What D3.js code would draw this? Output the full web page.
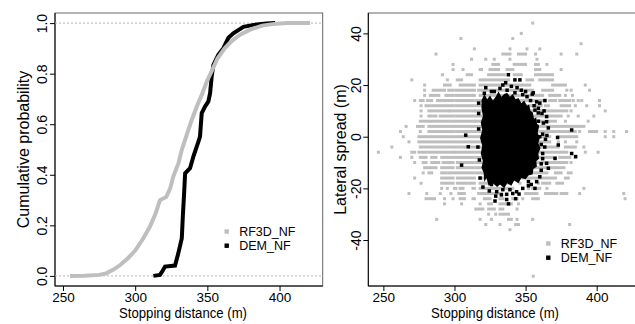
<!DOCTYPE html>
<html>
<head>
<meta charset="utf-8">
<script src="https://cdn.jsdelivr.net/npm/d3@7"></script>
<style>
  body { margin: 0; background: #fff; }
  text { font-family: "Liberation Sans", Arial, sans-serif; }
</style>
</head>
<body>
<div class="chart"></div>
<script>
// ---- data ----
const seriesNames = ['RF3D_NF', 'DEM_NF'];
const seriesColors = ['#bebebe', '#000000'];

const distTicks = [250, 300, 350, 400];
const probTicks = [0, 0.2, 0.4, 0.6, 0.8, 1.0];
const spreadTicks = [-40, -20, 0, 20, 40];

// cumulative curves: [stopping distance, probability]
const ecdfRF3D = [[254.9,0],[265,0.001],[275,0.004],[280,0.01],[285,0.025],[290,0.045],[295,0.07],
  [300,0.1],[305,0.143],[310,0.192],[314,0.245],[317.2,0.3],[321.5,0.312],[324.2,0.345],[326.4,0.393],
  [330,0.446],[332.3,0.499],[335.7,0.558],[339.2,0.617],[342.7,0.67],[346.1,0.716],[349.6,0.769],
  [353,0.81],[357,0.86],[362,0.9],[367,0.93],[373,0.955],[380,0.975],[388,0.99],[395,0.996],[405,1],[421.2,1]];
const ecdfDEM = [[312.6,0],[317.2,0.004],[319,0.02],[320.7,0.037],[327.6,0.041],[329.9,0.09],[332.3,0.149],
  [333,0.235],[333.9,0.327],[334.6,0.406],[338,0.426],[340.3,0.472],[343.8,0.531],[344.9,0.551],
  [346.1,0.644],[348.4,0.67],[350.7,0.69],[351.9,0.723],[353,0.789],[354.2,0.835],[357.6,0.875],
  [361,0.9],[364.6,0.942],[368,0.96],[375,0.985],[382,0.993],[391,0.998],[397,1]];

// RF3D scatter: lateral spread rows with runs of adjacent points [from, to] in stopping distance
const rf3dRows = [
  [44, [[355]]],
  [40, [[347]]],
  [38, [[304.5],[341]]],
  [36, [[389]]],
  [34, [[314],[339],[351],[360]]],
  [32, [[287],[334,339],[345,350],[357],[375],[386]]],
  [30, [[312],[322],[328],[339],[358]]],
  [28, [[299],[327,331],[342,350],[357,359],[365]]],
  [26, [[299],[306],[318,319],[325,331],[337,341],[357,360],[375]]],
  [24, [[291.5],[309,312],[324,335],[342,347],[357,369]]],
  [22, [[270],[295],[302,305],[318,338],[351,355],[360,369]]],
  [20, [[279],[293,297],[304,314],[318,353],[369,378],[392]]],
  [18, [[279],[285,293],[296,299],[301,314],[317,355],[362,369],[379],[382],[395]]],
  [16, [[279],[283,289],[294,299],[301,314],[318,362],[367,374],[378],[383]]],
  [14, [[272],[276,278],[281,284],[288,299],[301,313],[315,362],[367,371],[374,381],[383.5],[387],[389.5],[402]]],
  [12, [[276.5],[280,282],[284,299],[301,313],[315,361],[364,366],[375,381],[385],[393],[402]]],
  [10, [[276.5],[282,296],[297,314],[315,379],[382],[406]]],
  [8, [[276.5],[282,284],[286,287],[290,299],[301,314],[316,375],[380],[387],[398]]],
  [6, [[276,293],[295,314],[315,371],[378],[394]]],
  [4, [[266],[274,278],[282,299],[300,316],[317,391]]],
  [2, [[262],[276],[282,299],[301,315],[317,371],[373,378],[380,385],[388],[395,400],[406],[412],[421]]],
  [0, [[264],[275,367],[373,386],[406],[412]]],
  [-2, [[268],[275,367],[373],[378],[386]]],
  [-4, [[256],[276,373],[378,385],[391]]],
  [-6, [[246.5],[270,272],[275,280],[282,299],[300,313],[315,379],[392],[401]]],
  [-8, [[262],[270],[276,280],[284,287],[291,298],[300,313],[315,371],[374,381],[385]]],
  [-10, [[272],[278,280],[284,289],[292,299],[302,313],[315,371],[373,379],[382]]],
  [-12, [[279,287],[291,299],[302,313],[315,371],[373,377]]],
  [-14, [[278],[282,284],[291,294],[296,313],[315,365],[371,375],[380,382]]],
  [-16, [[272],[291,299],[302,314],[318,371],[378,380]]],
  [-18, [[276.5],[291,299],[302,308],[310,314],[318,337],[346],[359],[362,367],[372,376]]],
  [-20, [[291],[295],[300,301],[304,306],[313,314],[318,341],[352],[355,360],[365],[391]]],
  [-22, [[268],[280.5],[290],[297.5],[303,307],[317,333],[350,358],[364,372],[375,379],[388],[419]]],
  [-24, [[280,284],[286],[293],[299],[304,307],[313,314],[321,325],[332,334],[341],[344],[348],[355,359],[420]]],
  [-26, [[293],[305],[318],[324,326],[332,337],[340],[345]]],
  [-28, [[315,320],[324,328],[332,334],[344]]],
  [-30, [[324],[329],[332,338]]],
  [-32, [[287.5],[318],[326],[338,340],[344],[355]]],
  [-34, [[322],[332],[343,345],[381]]],
  [-36, [[339]]],
  [-40, [[383.5]]],
  [-54, [[355.4]]]
];

// DEM scatter: outline of the dense core plus the scattered points around it
const demCore = [[319,14],[321,16.5],[323,14.5],[325,16],[327,14],[329,15.5],[331,17.5],[333,15.5],
  [335,16.5],[337,17],[339,15.5],[341,16.5],[343,14.5],[345,15],[347,13],[349,14],[351,12],[352.5,12.5],
  [353.5,10],[355,9.5],[356,7],[357.5,7.5],[358,5],[359.5,4],[358.5,1.5],[360,-0.5],[359,-2.5],[360.5,-4.5],
  [359,-6.5],[359.5,-8.5],[357.5,-9.5],[358,-11.5],[355.5,-12.5],[355,-14.5],[352,-15],[350,-16.5],
  [347,-16],[345,-18],[342,-17],[340,-19],[337,-18],[335,-20],[332,-18.5],[330,-19.5],[327,-18],
  [324,-19],[322.5,-16],[321,-17.5],[320.5,-14],[319,-12],[320,-9.5],[318.5,-6.5],[319.5,-3.5],
  [318,-0.5],[319.5,2.5],[318.5,5.5],[320,8],[319,11]];
const demPoints = [[337.9,24],[342.5,22],[346,22],[336,20.9],[332,18.7],[337,18],[321,16.8],[326,17.5],
  [342.5,17],[348,16.3],[355.4,17],[354.7,16.5],[353.5,14],[360,13],[363.6,14],[357.8,13.5],[356.6,10.3],
  [358.9,9.2],[364.8,7.8],[362.5,5.3],[366,3.4],[364.8,5.8],[363.5,-4],[364.8,-10.3],[366,-12.2],
  [357.8,-17.4],[352,-17.4],[356.6,-20],[343.7,-21.3],[345.4,-22.2],[336.7,-22.3],[336.7,-24.3],
  [328.5,-24.9],[329.7,-21.3],[326,-18.5],[334,-20.5],[339,-20.5],[307.9,0.6],[309.7,-3.9],[305,-11],
  [370.7,-8.4],[372.5,-0.3],[373,-3.2],[382.4,2.6],[382.4,-6.5],[385.2,-7.7],
  [358,4],[360,0],[361,-3],[362,1],[362,-6.5],[359,6],[356,12],[351,15.5],[347,18],[340,19.5],
  [334,20],[328,17.5],[324,13],[329,-23],[333,-22.5],[341,-22],[348,-20],[352,-19],[361,-13],
  [362,-8.5],[364,-1],[318,-16],[317,3],[317.5,-9],[317,9],[322,19],[344,19],[350,17.5],[359,11],
  [361.5,9],[365,0.5],[363,10],[361,-10.5],[360,-15.5],[354,-18.5],[343,-24],[338,-26],[324.5,-21],
  [320,-19.5],[317,13],[316.5,-4]];

// ---- drawing ----
const svg = d3.select('.chart').append('svg')
  .attr('width', 635).attr('height', 324);

const left = {x0: 55, x1: 322.7, y0: 13, y1: 286};
const right = {x0: 368.3, x1: 636.5, y0: 13, y1: 286};

const xL = d3.scaleLinear().domain([244.46, 429.9]).range([left.x0, left.x1]);
const yL = d3.scaleLinear().domain([-0.04, 1.04]).range([left.y1, left.y0]);
const xR = d3.scaleLinear().domain([239.4, 428]).range([right.x0, right.x1]);
const yR = d3.scaleLinear().domain([-57.8, 47.9]).range([right.y1, right.y0]);

function drawFrame(p, x, y, yTicks, yFmt, yOff, yTitle, yTitleX, xTitleX) {
  // box
  svg.append('rect')
    .attr('x', p.x0).attr('y', p.y0)
    .attr('width', p.x1 - p.x0).attr('height', p.y1 - p.y0)
    .attr('fill', 'none').attr('stroke', '#666');

  // x axis
  const gx = svg.append('g').attr('transform', `translate(0,${p.y1})`)
    .call(d3.axisBottom(x).tickValues(distTicks).tickSize(5));
  gx.select('.domain').remove();
  gx.selectAll('line').attr('stroke', '#000');
  gx.selectAll('text').attr('font-size', 13.5).attr('fill', '#000')
    .attr('dy', null).attr('y', 16);
  svg.append('line').attr('x1', p.x0).attr('x2', p.x1)
    .attr('y1', p.y1).attr('y2', p.y1).attr('stroke', '#000');

  // y axis, labels parallel to the axis
  const gy = svg.append('g').attr('transform', `translate(${p.x0},0)`)
    .call(d3.axisLeft(y).tickValues(yTicks).tickSize(5).tickFormat(yFmt));
  gy.select('.domain').remove();
  gy.selectAll('line').attr('stroke', '#000');
  gy.selectAll('text').attr('font-size', 14).attr('fill', '#000')
    .attr('x', 0).attr('dy', null).attr('y', yOff)
    .attr('text-anchor', 'middle').attr('transform', 'rotate(-90)');
  svg.append('line').attr('x1', p.x0).attr('x2', p.x0)
    .attr('y1', p.y0).attr('y2', p.y1).attr('stroke', '#000');

  // titles
  svg.append('text').attr('x', xTitleX).attr('y', 318)
    .attr('text-anchor', 'middle').attr('font-size', 15.5)
    .attr('textLength', 128).attr('lengthAdjust', 'spacingAndGlyphs')
    .text('Stopping distance (m)');
  svg.append('text')
    .attr('transform', `translate(${yTitleX},149.5) rotate(-90)`)
    .attr('text-anchor', 'middle').attr('font-size', 16)
    .text(yTitle);
}

function drawLegend(x, y, dy) {
  seriesNames.forEach((name, i) => {
    svg.append('rect')
      .attr('x', x - 2.2).attr('y', y + i * dy - 2.2)
      .attr('width', 4.4).attr('height', 4.4)
      .attr('fill', seriesColors[i]);
    svg.append('text')
      .attr('x', x + 12.5).attr('y', y + i * dy + 4.5)
      .attr('font-size', 12.5).attr('fill', '#000')
      .text(name);
  });
}

// left panel: cumulative probability
drawFrame(left, xL, yL, probTicks, d3.format('.1f'), -8,
  'Cumulative probability', 28.5, 183);

svg.selectAll('line.ref').data([0, 1]).join('line')
  .attr('class', 'ref')
  .attr('x1', left.x0).attr('x2', left.x1)
  .attr('y1', d => yL(d)).attr('y2', d => yL(d))
  .attr('stroke', '#b5b5b5').attr('stroke-dasharray', '2,2');

const lineL = d3.line().x(d => xL(d[0])).y(d => yL(d[1]));
svg.append('path').datum(ecdfDEM)
  .attr('d', lineL).attr('fill', 'none')
  .attr('stroke', seriesColors[1]).attr('stroke-width', 4);
svg.append('path').datum(ecdfRF3D)
  .attr('d', lineL).attr('fill', 'none')
  .attr('stroke', seriesColors[0]).attr('stroke-width', 4);

drawLegend(226.7, 231.5, 14.2);

// right panel: lateral spread vs stopping distance
drawFrame(right, xR, yR, spreadTicks, d => String(d), -7,
  'Lateral spread (m)', 345.5, 495);

const runs = rf3dRows.flatMap(([y, segs]) =>
  segs.map(s => ({y, a: s[0], b: s.length > 1 ? s[1] : s[0]})));
svg.append('g').selectAll('rect').data(runs).join('rect')
  .attr('x', d => xR(d.a) - 1.5)
  .attr('y', d => yR(d.y) - 1.5)
  .attr('width', d => xR(d.b) - xR(d.a) + 3)
  .attr('height', 3)
  .attr('fill', seriesColors[0]);

svg.append('path').datum(demCore)
  .attr('d', d3.line().x(d => xR(d[0])).y(d => yR(d[1])).curve(d3.curveLinearClosed))
  .attr('fill', seriesColors[1]);
svg.append('g').selectAll('rect').data(demPoints).join('rect')
  .attr('x', d => xR(d[0]) - 1.75)
  .attr('y', d => yR(d[1]) - 1.75)
  .attr('width', 3.5).attr('height', 3.5)
  .attr('fill', seriesColors[1]);

drawLegend(548.3, 243.5, 14.2);
</script>
</body>
</html>
